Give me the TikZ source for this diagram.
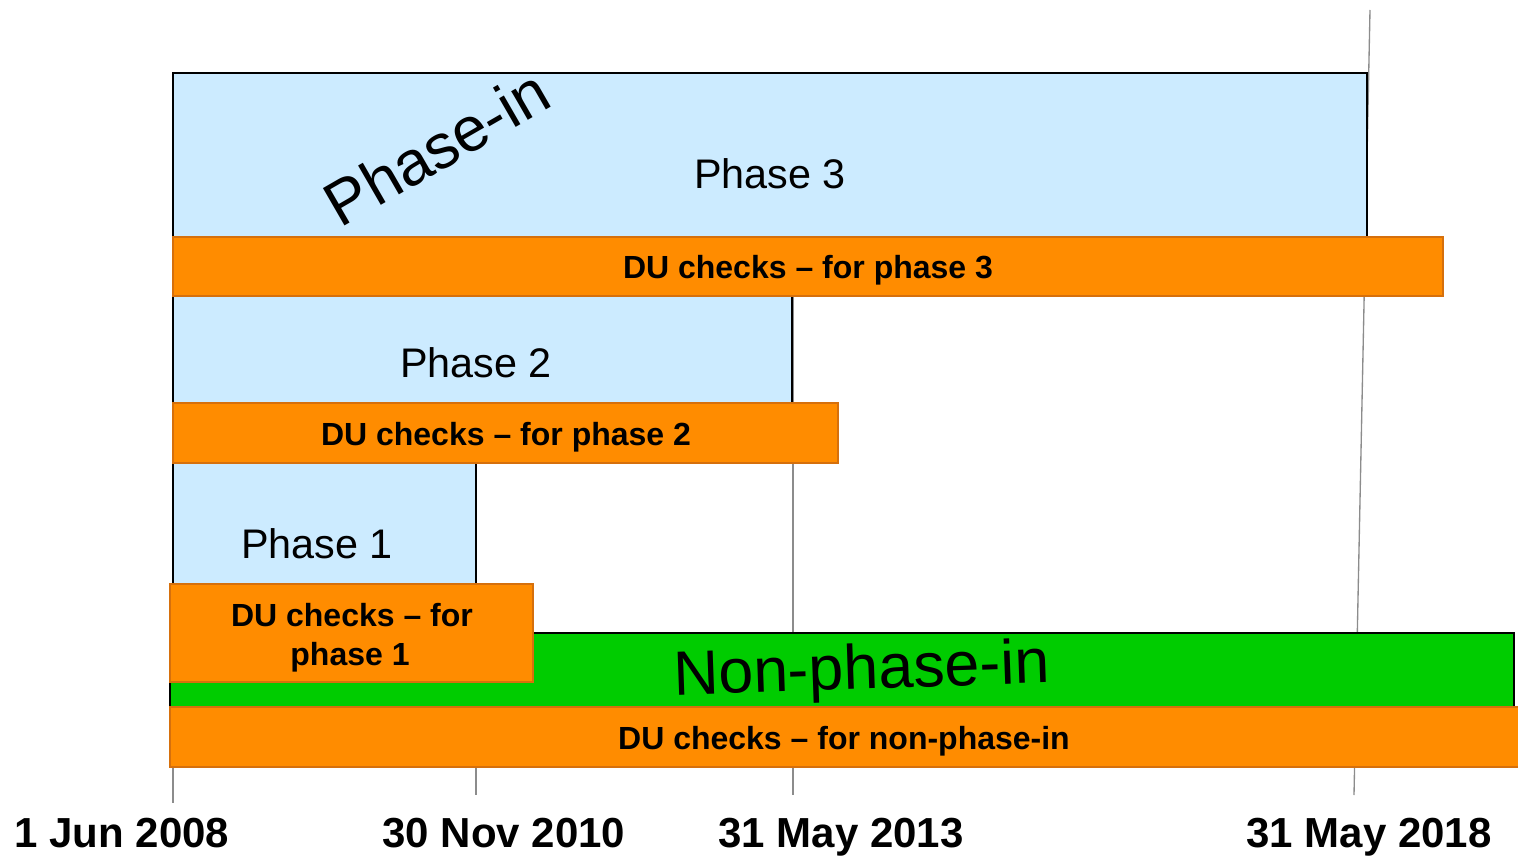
\documentclass[tikz,border=0pt]{standalone}
\usepackage{fontspec}
\setmainfont{Liberation Sans}
\usetikzlibrary{fit}
\definecolor{phaseblue}{RGB}{204,235,255}
\definecolor{duorange}{RGB}{255,140,0}
\definecolor{duedge}{RGB}{214,112,12}
\definecolor{nonpgreen}{RGB}{0,204,0}
\definecolor{tickgrey}{RGB}{140,140,140}
\begin{document}
\begin{tikzpicture}[x=0.75pt,y=-0.75pt,
  phasebox/.style={draw=black, fill=phaseblue, line width=1.4pt, inner sep=0pt},
  nonpbox/.style={draw=black, fill=nonpgreen, line width=1.4pt, inner sep=0pt},
  dubox/.style={draw=duedge, fill=duorange, line width=1.1pt, inner sep=0pt},
  tick/.style={draw=tickgrey, line width=1pt},
  phaselabel/.style={font=\fontsize{31}{36}\selectfont, anchor=base, inner sep=0pt},
  dulabel/.style={font=\fontsize{24}{29}\selectfont\bfseries, anchor=base, inner sep=0pt},
  datelabel/.style={font=\fontsize{31.5}{36}\selectfont\bfseries, anchor=base, inner sep=0pt}]
\useasboundingbox (0,0) rectangle (1518,856);

% date ticks, behind the bars
\coordinate (t0top) at (173,463);  \coordinate (t0bot) at (173,803);
\coordinate (t1top) at (476,463);  \coordinate (t1bot) at (476,795);
\coordinate (t2top) at (793,296);  \coordinate (t2bot) at (793,795);
\coordinate (t3top) at (1370,10);  \coordinate (t3bot) at (1354,795);
\draw[tick] (t0top) -- (t0bot);
\draw[tick] (t1top) -- (t1bot);
\draw[tick] (t2top) -- (t2bot);
\draw[tick] (t3top) -- (t3bot);

% phase-in periods
\node[phasebox, fit={(173,73) (1367,237)}] (p3) {};
\node[phasebox, fit={(173,296) (792,403)}] (p2) {};
\node[phasebox, fit={(173,463) (476,584)}] (p1) {};

% non-phase-in period
\node[nonpbox, fit={(170,633) (1514,707)}] (np) {};

% DU check bars
\node[dubox, fit={(173,237) (1443,296)}] (du3) {};
\node[dubox, fit={(173,403) (838,463)}] (du2) {};
\node[dubox, fit={(170,584) (533,682)}] (du1) {};
\node[dubox, fit={(170,707) (1522,767)}] (dun) {};

% labels
\node[font=\fontsize{47}{52}\selectfont, anchor=base, inner sep=0pt, rotate=30] (phasein) at (448,167) {Phase-in};
\node[phaselabel] (l3) at (770,188) {Phase 3};
\node[phaselabel] (l2) at (476,377) {Phase 2};
\node[phaselabel] (l1) at (317,558) {Phase 1};
\node[font=\fontsize{47}{52}\selectfont, anchor=base, inner sep=0pt, rotate=2] (nonphasein) at (862,689) {Non-phase-in};

\node[dulabel] (ld3) at (808,278) {DU checks -- for phase 3};
\node[dulabel] (ld2) at (506,445) {DU checks -- for phase 2};
\node[dulabel] (ld1a) at (352,626) {DU checks -- for};
\node[dulabel] (ld1b) at (350,665) {phase 1};
\node[dulabel] (ldn) at (844,749) {DU checks -- for non-phase-in};

% dates
\node[datelabel] (d0) at (122,847) {1 Jun 2008};
\node[datelabel] (d1) at (504,847) {30 Nov 2010};
\node[datelabel] (d2) at (841,847) {31 May 2013};
\node[datelabel] (d3) at (1369,847) {31 May 2018};
\end{tikzpicture}
\end{document}
